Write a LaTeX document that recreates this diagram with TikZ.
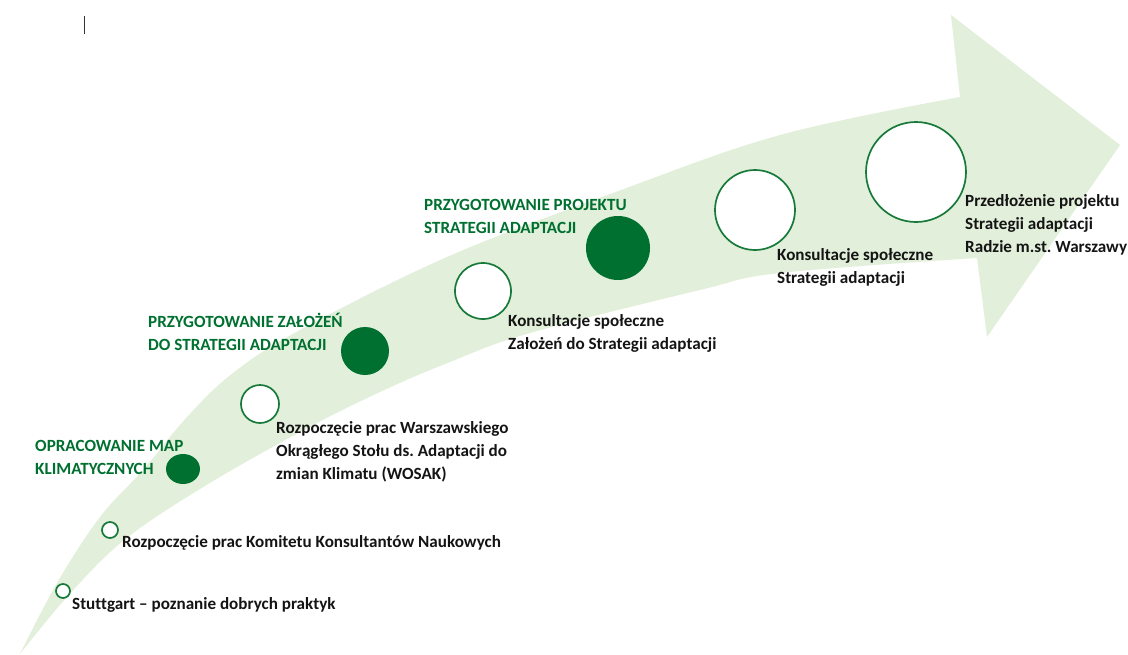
\documentclass[tikz,border=0pt]{standalone}
\usepackage{fontspec}
\setmainfont{Carlito}[Ligatures=NoCommon]
\usetikzlibrary{shapes.geometric}
\frenchspacing
\definecolor{bandgreen}{RGB}{226,239,218}
\definecolor{darkgreen}{RGB}{0,112,48}
\definecolor{ringgreen}{RGB}{24,122,58}
\definecolor{txtblack}{RGB}{20,20,20}
\begin{document}
\begin{tikzpicture}[x=1pt,y=-1pt,
  ring/.style={circle,draw=ringgreen,fill=white,line width=1.7pt,inner sep=0pt},
  dot/.style={circle,fill=darkgreen,inner sep=0pt},
  lbl/.style={anchor=base west,inner sep=0pt,align=left,text=txtblack,
     font=\fontsize{17.1}{22.6}\selectfont\bfseries\frenchspacing},
  glbl/.style={lbl,text=darkgreen}]
\useasboundingbox (0,0) rectangle (1128,654);
% curved arrow band
\fill[bandgreen]
  plot[smooth,tension=0.6] coordinates {(20,654) (57,583) (100,517) (143,470) (187,417) (233,373) (300,330) (447,257) (613,193) (780,135) (960,97)}
  -- (951,15) -- (1120,145) -- (987,337) -- (977,258)
  -- plot[smooth,tension=0.6] coordinates {(977,258) (780,273) (700,290) (530,333) (450,362) (380,392) (300,432) (200,489) (123,541) (67,597) (20,654)}
  -- cycle;
% cursor mark
\draw[line width=1pt,black!80] (84,16) -- (84,34);
% circles
\node[ring,minimum size=14pt] (c1) at (63,591) {};
\node[ring,minimum size=16pt] (c2) at (110,530) {};
\node[ellipse,fill=darkgreen,inner sep=0pt,minimum width=34pt,minimum height=30pt] (c3) at (183,469) {};
\node[ring,minimum size=38pt] (c4) at (260,404) {};
\node[dot,minimum size=48pt] (c5) at (365,351) {};
\node[ring,minimum size=56pt] (c6) at (483,291) {};
\node[dot,minimum size=64pt] (c7) at (618,248) {};
\node[ring,minimum size=80pt] (c8) at (755,210) {};
\node[ring,minimum size=100pt] (c9) at (916,172) {};
% labels (base = baseline of last line)
\node[lbl] (t1) at (72,609) {Stuttgart – poznanie dobrych praktyk};
\node[lbl] (t2) at (122,547) {Rozpoczęcie prac Komitetu Konsultantów Naukowych};
\node[glbl] (t3) at (35,474) {OPRACOWANIE MAP\\KLIMATYCZNYCH};
\node[lbl] (t4) at (276,479) {Rozpoczęcie prac Warszawskiego\\Okrągłego Stołu ds. Adaptacji do\\zmian Klimatu (WOSAK)};
\node[glbl] (t5) at (148,350) {PRZYGOTOWANIE ZAŁOŻEŃ\\DO STRATEGII ADAPTACJI};
\node[lbl] (t6) at (508,349) {Konsultacje społeczne\\Założeń do Strategii adaptacji};
\node[glbl] (t7) at (424,233) {PRZYGOTOWANIE PROJEKTU\\STRATEGII ADAPTACJI};
\node[lbl] (t8) at (777,283) {Konsultacje społeczne\\Strategii adaptacji};
\node[lbl] (t9) at (965,252) {Przedłożenie projektu\\Strategii adaptacji\\Radzie m.st. Warszawy};
\end{tikzpicture}
\end{document}
